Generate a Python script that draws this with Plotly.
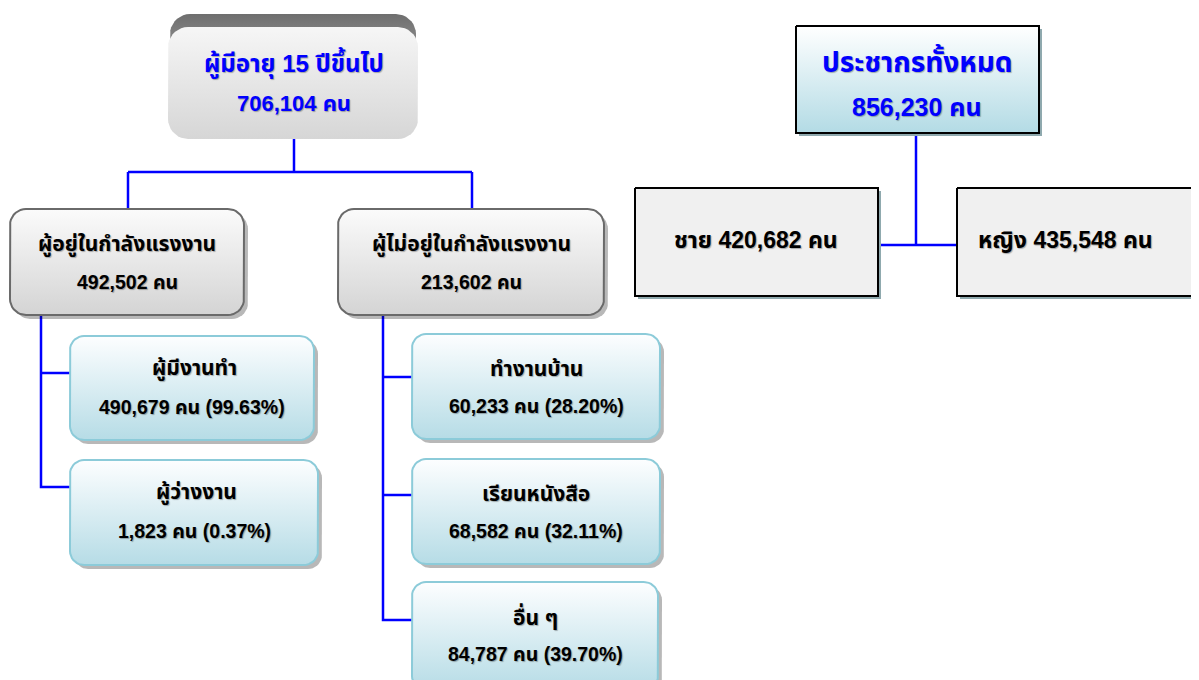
import numpy as np
import plotly.graph_objects as go

# ---------------- data ----------------
pop_label = "ประชากรทั้งหมด"
pop_total = 856230
sex_labels = ["ชาย", "หญิง"]
sex_values = [420682, 435548]

age_label = "ผู้มีอายุ 15 ปีขึ้นไป"
age_total = 706104
lf_labels = ["ผู้อยู่ในกำลังแรงงาน", "ผู้ไม่อยู่ในกำลังแรงงาน"]
lf_values = [492502, 213602]
in_lf_labels = ["ผู้มีงานทำ", "ผู้ว่างงาน"]
in_lf_values = [490679, 1823]
in_lf_pct = [99.63, 0.37]
out_lf_labels = ["ทำงานบ้าน", "เรียนหนังสือ", "อื่น ๆ"]
out_lf_values = [60233, 68582, 84787]
out_lf_pct = [28.20, 32.11, 39.70]

W, H = 1199, 680
OFF = 8  # page body margin
FONT = "'Liberation Sans', Arial, 'Noto Sans Thai', sans-serif"
BLUE = "#0000ff"
SHADOW_TXT = "1px 1px 1px rgba(0,0,0,0.3)"

fig = go.Figure()


def rrect(x0, y0, x1, y1, r):
    if r <= 0:
        return [x0, x1, x1, x0, x0], [y0, y0, y1, y1, y0]
    pts = []
    for cx, cy, a0 in [(x1 - r, y0 + r, -90), (x1 - r, y1 - r, 0), (x0 + r, y1 - r, 90), (x0 + r, y0 + r, 180)]:
        for a in np.linspace(a0, a0 + 90, 10):
            t = np.radians(a)
            pts.append((cx + r * np.cos(t), cy + r * np.sin(t)))
    pts.append(pts[0])
    xs, ys = zip(*pts)
    return list(xs), list(ys)


def box(x0, y0, x1, y1, r, top, bottom, border, bw, shadow="rgba(0,0,0,0.28)", sd=4):
    if shadow:
        xs, ys = rrect(x0 + sd, y0 + sd, x1 + sd, y1 + sd, r)
        fig.add_trace(go.Scatter(x=xs, y=ys, mode="lines", fill="toself", fillcolor=shadow,
                                 line=dict(width=0), hoverinfo="skip", showlegend=False))
    xs, ys = rrect(x0, y0, x1, y1, r)
    fig.add_trace(go.Scatter(x=xs, y=ys, mode="lines", fill="toself",
                             fillgradient=dict(type="vertical", colorscale=[[0, top], [1, bottom]],
                                               start=y0, stop=y1),
                             line=dict(color=border, width=bw), hoverinfo="skip", showlegend=False))


def text(x, y, s, size, color="black", anchor="center"):
    fig.add_annotation(x=x, y=y, text=f"<b>{s}</b>", showarrow=False, xanchor=anchor, yanchor="middle",
                       font=dict(family=FONT, size=size, color=color, shadow=SHADOW_TXT))


def line(xs, ys):
    fig.add_trace(go.Scatter(x=xs, y=ys, mode="lines", line=dict(color=BLUE, width=2.5),
                             hoverinfo="skip", showlegend=False))


# ---------------- connectors ----------------
line([294, 294], [139, 172])
line([128, 472], [172, 172])
line([128, 128], [172, 209])
line([472, 472], [172, 209])
line([41, 41, 70], [315, 487, 487])
line([41, 70], [373, 373])
line([383, 383, 412], [315, 620, 620])
line([383, 412], [377, 377])
line([383, 412], [495, 495])
line([916, 916], [133, 245])
line([878, 957], [245, 245])

# ---------------- top left box (3D) ----------------
box(170, 14, 416, 120, 20, "#6e6e6e", "#d0d0d0", "rgba(0,0,0,0)", 0, shadow=None)
box(168, 27, 418, 139, 20, "#f6f6f6", "#d6d6d6", "rgba(0,0,0,0)", 0, shadow=None)
text(294, 63, age_label, 24, BLUE)
text(294, 103, f"{age_total:,} คน", 22, BLUE)

# ---------------- labour force boxes ----------------
lf_pos = [(10, 209, 244, 315), (338, 209, 604, 315)]
for (x0, y0, x1, y1), lab, v in zip(lf_pos, lf_labels, lf_values):
    box(x0, y0, x1, y1, 16, "#fbfbfb", "#d4d4d4", "#6a6a6a", 2)
    cx = (x0 + x1) / 2
    text(cx, 244, lab, 21)
    text(cx, 282, f"{v:,} คน", 19.5)

in_pos = [(70, 336, 314, 440), (70, 460, 318, 565)]
for (x0, y0, x1, y1), lab, v, p in zip(in_pos, in_lf_labels, in_lf_values, in_lf_pct):
    box(x0, y0, x1, y1, 14, "#fdfeff", "#b6dce6", "#8ccbd9", 2)
    cx = (x0 + x1) / 2
    text(cx + 2, y0 + 32, lab, 21)
    text(cx, y0 + 71, f"{v:,} คน ({p:.2f}%)", 19.5)

out_pos = [(412, 334, 660, 439), (412, 459, 660, 564), (412, 582, 658, 690)]
for (x0, y0, x1, y1), lab, v, p in zip(out_pos, out_lf_labels, out_lf_values, out_lf_pct):
    box(x0, y0, x1, y1, 14, "#fdfeff", "#b6dce6", "#8ccbd9", 2)
    cx = (x0 + x1) / 2
    text(cx, y0 + 34, lab, 21)
    text(cx, y0 + 72, f"{v:,} คน ({p:.2f}%)", 19.5)

# ---------------- population boxes ----------------
box(796, 26, 1039, 133, 0, "#ffffff", "#b3dbe5", "#000000", 2, shadow="#8fa9ae", sd=3)
text(917, 60, pop_label, 28, BLUE)
text(917, 107, f"{pop_total:,} คน", 25, BLUE)

box(635, 188, 878, 296, 0, "#f0f0f0", "#f0f0f0", "#000000", 2, shadow="#8fa9ae", sd=3)
text(756, 240, f"{sex_labels[0]} {sex_values[0]:,} คน", 23)
box(957, 188, 1197, 296, 0, "#f0f0f0", "#f0f0f0", "#000000", 2, shadow="#8fa9ae", sd=3)
text(976, 240, f"{sex_labels[1]} {sex_values[1]:,} คน", 23, anchor="left")

fig.update_layout(
    width=W - OFF, height=H - OFF, margin=dict(l=0, r=0, t=0, b=0),
    paper_bgcolor="white", plot_bgcolor="white",
    xaxis=dict(range=[OFF, W], visible=False, fixedrange=True),
    yaxis=dict(range=[H, OFF], visible=False, fixedrange=True),
    showlegend=False,
)
fig.write_html("out.html")
